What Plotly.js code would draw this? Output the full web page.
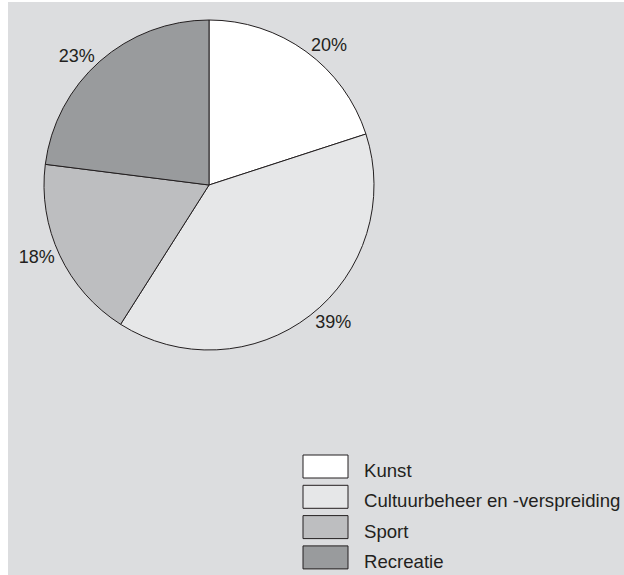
<!DOCTYPE html>
<html>
<head>
<meta charset="utf-8">
<script src="https://cdn.plot.ly/plotly-3.0.1.min.js"></script>
<style>
  html, body { margin: 0; padding: 0; background: #ffffff; width: 624px; height: 575px; overflow: hidden; }
  #chart { position: absolute; left: 8px; top: 2px; width: 616px; height: 573px; }
</style>
</head>
<body>
<div id="chart"></div>
<script>
const categories = ["Kunst", "Cultuurbeheer en -verspreiding", "Sport", "Recreatie"];
const shares = [20, 39, 18, 23];
const shareLabels = ["20%", "39%", "18%", "23%"];
const sliceColors = ["#ffffff", "#e6e7e8", "#bdbec0", "#999b9d"];

const W = 616, H = 573;
const lineColor = "#231f20";
const textColor = "#231f20";
const fontFamily = "Liberation Sans, Arial, sans-serif";

const trace = {
  type: "pie",
  values: shares,
  labels: categories,
  text: shareLabels,
  textinfo: "text",
  textposition: "outside",
  sort: false,
  direction: "clockwise",
  rotation: 0,
  marker: { colors: sliceColors, line: { color: lineColor, width: 1 } },
  outsidetextfont: { family: fontFamily, size: 18, color: textColor },
  domain: { x: [36 / W, 366 / W], y: [(H - 348) / H, (H - 18) / H] },
  showlegend: false,
  hoverinfo: "label+percent"
};

// custom legend built from the category list
const shapes = [];
const annotations = [];
const boxX0 = 295, boxX1 = 340, boxTop0 = 453, boxH = 23, pitch = 30.3;
categories.forEach((c, i) => {
  const top = boxTop0 + i * pitch;
  shapes.push({
    type: "rect", xref: "paper", yref: "paper",
    x0: boxX0 / W, x1: boxX1 / W,
    y0: 1 - (top + boxH) / H, y1: 1 - top / H,
    fillcolor: sliceColors[i], line: { color: lineColor, width: 1 }
  });
  annotations.push({
    xref: "paper", yref: "paper", x: 354 / W, y: 1 - (top + boxH / 2 + 4) / H,
    xanchor: "left", yanchor: "middle", showarrow: false, text: c,
    font: { family: fontFamily, size: 18.6, color: textColor }
  });
});

const layout = {
  width: W, height: H,
  margin: { l: 0, r: 0, t: 0, b: 0 },
  paper_bgcolor: "#dcdddf",
  plot_bgcolor: "#dcdddf",
  shapes: shapes,
  annotations: annotations,
  showlegend: false
};

Plotly.newPlot("chart", [trace], layout, { displayModeBar: false, staticPlot: true });
</script>
</body>
</html>
